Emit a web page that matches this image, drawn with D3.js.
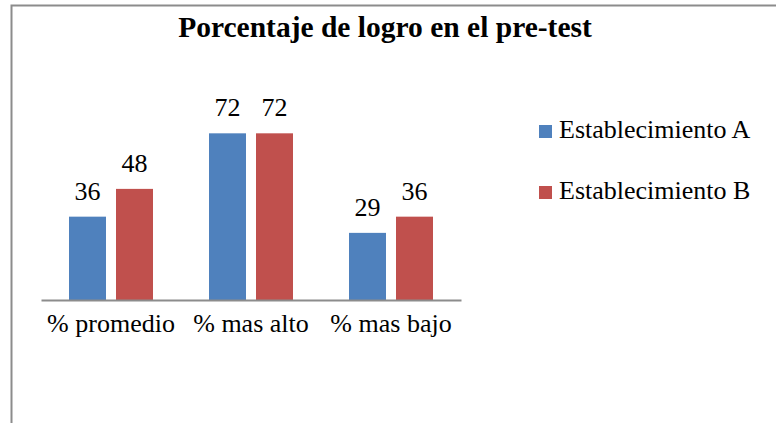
<!DOCTYPE html>
<html>
<head>
<meta charset="utf-8">
<script src="https://cdn.jsdelivr.net/npm/d3@7"></script>
<style>
  body { margin: 0; background: #fff; }
</style>
</head>
<body>
<script>
// Data
var categories = ["% promedio", "% mas alto", "% mas bajo"];
var seriesNames = ["Establecimiento A", "Establecimiento B"];
var valuesA = [36, 72, 29];
var valuesB = [48, 72, 36];
var colors = ["#4f81bd", "#c0504d"];
var title = "Porcentaje de logro en el pre-test";

var serif = "'Liberation Serif', 'Times New Roman', 'DejaVu Serif', serif";

function chart() {
  var w = 776;
  var h = 423;

  var rows = categories.map(function (c, i) {
    return { cat: c, vals: [valuesA[i], valuesB[i]] };
  });

  var svg = d3.select("body")
              .append("svg")
              .attr("width", w)
              .attr("height", h);

  // frame (only top and left edges are visible in the crop)
  svg.append("path")
    .attr("d", "M11.5," + h + "V5.5H" + w)
    .attr("fill", "none")
    .attr("stroke", "#8c8c8c")
    .attr("stroke-width", 2);

  svg.append("text")
    .attr("x", 385)
    .attr("y", 37)
    .attr("text-anchor", "middle")
    .style("font-family", serif)
    .style("font-size", "29.5px")
    .style("font-weight", "bold")
    .text(title);

  var x0 = d3.scaleBand()
    .domain(categories)
    .range([41, 461]);

  var x1 = d3.scaleBand()
    .domain([0, 1])
    .range([28, 112])
    .paddingInner(0.213);

  var y = d3.scaleLinear()
    .domain([0, 80])
    .range([300, 300 - 80 * 2.315]);

  var groups = svg.selectAll("g.grp")
    .data(rows)
    .enter()
    .append("g")
    .attr("class", "grp")
    .attr("transform", function (d) { return "translate(" + x0(d.cat) + ",0)"; });

  groups.selectAll("rect")
    .data(function (d) { return d.vals; })
    .enter()
    .append("rect")
    .attr("x", function (d, i) { return x1(i); })
    .attr("y", function (d) { return y(d); })
    .attr("width", x1.bandwidth())
    .attr("height", function (d) { return y(0) - y(d); })
    .attr("fill", function (d, i) { return colors[i]; });

  groups.selectAll("text")
    .data(function (d) { return d.vals; })
    .enter()
    .append("text")
    .attr("x", function (d, i) { return x1(i) + x1.bandwidth() / 2; })
    .attr("y", function (d) { return y(d) - 17; })
    .attr("text-anchor", "middle")
    .style("font-family", serif)
    .style("font-size", "26px")
    .text(function (d) { return d; });

  // x axis
  var xAxis = d3.axisBottom(x0).tickSize(0).tickPadding(0);
  var ax = svg.append("g")
    .attr("transform", "translate(0," + y(0) + ")")
    .call(xAxis);
  ax.select(".domain")
    .attr("stroke", "#8c8c8c")
    .attr("stroke-width", 2);
  ax.selectAll("text")
    .attr("dy", 0)
    .attr("y", 32)
    .attr("fill", "#000")
    .style("font-family", serif)
    .style("font-size", "26px");

  // legend
  var legend = svg.selectAll("g.leg")
    .data(seriesNames)
    .enter()
    .append("g")
    .attr("class", "leg")
    .attr("transform", function (d, i) { return "translate(539," + (125 + i * 61) + ")"; });

  legend.append("rect")
    .attr("width", 13)
    .attr("height", 13)
    .attr("fill", function (d, i) { return colors[i]; });

  legend.append("text")
    .attr("x", 20)
    .attr("y", 13)
    .style("font-family", serif)
    .style("font-size", "26px")
    .text(function (d) { return d; });
}

chart();
</script>
</body>
</html>
